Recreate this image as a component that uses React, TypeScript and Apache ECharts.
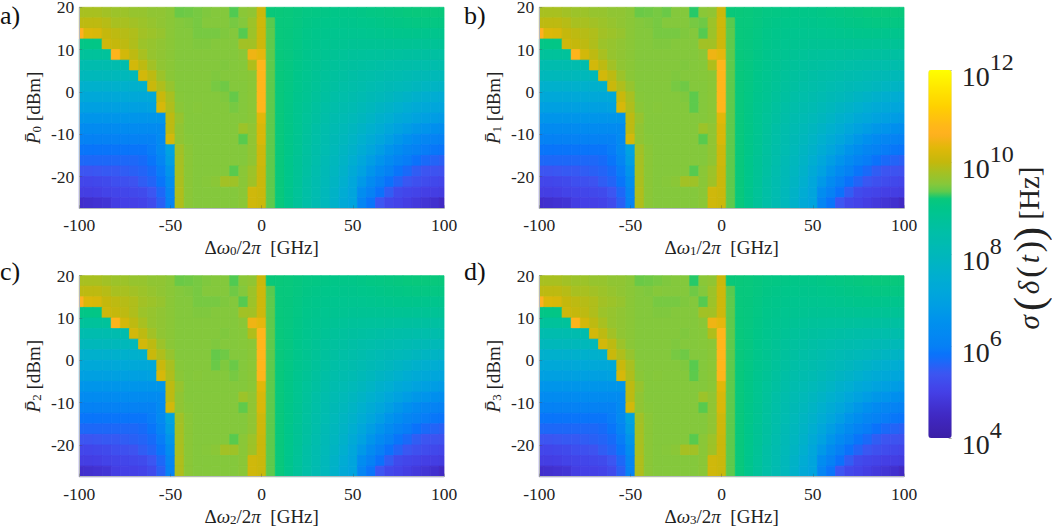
import React, { useEffect, useRef } from 'react';
import * as echarts from 'echarts';

// detuning of each column [GHz], the outer two columns are cut in half by the axis limits
const DETUNING = [
  -100, -95, -90, -85, -80, -75, -70, -65, -60, -55, -50, -45, -40, -35, -30, -25, -20, -15, -10, -5, 0,
  5, 10, 15, 20, 25, 30, 35, 40, 45, 50, 55, 60, 65, 70, 75, 80, 85, 90, 95, 100,
];
// centre of each row [dBm], top to bottom
const POWER = [
  18.75, 16.25, 13.75, 11.25, 8.75, 6.25, 3.75, 1.25, -1.25, -3.75, -6.25, -8.75, -11.25, -13.75, -16.25, -18.75,
  -21.25, -23.75, -26.25,
];
const X_TICKS = [-100, -50, 0, 50, 100];
const Y_TICKS = [-20, -10, 0, 10, 20];
const DECADES = [4, 6, 8, 10, 12];

// log10 of sigma(delta(t)) [Hz], read off panel a)
const LOG_SIGMA = [
  [9.8, 9.8, 9.8, 9.75, 9.7, 9.7, 9.65, 9.65, 9.6, 9.6, 9.55, 9.4, 9.42, 9.45, 9.48, 9.5, 9.5, 9.3, 9.55, 9.6, 10.05, 9.22, 9.22, 9.2, 9.15, 9.1, 9.08, 9.05, 9.03, 9.02, 9.02, 9.05, 9.08, 9.1, 9.12, 9.15, 9.18, 9.2, 9.2, 9.2, 9.2],
  [9.95, 9.95, 9.95, 9.9, 9.8, 9.8, 9.75, 9.7, 9.65, 9.6, 9.55, 9.5, 9.48, 9.45, 9.5, 9.5, 9.5, 9.45, 9.5, 9.7, 10.1, 9.33, 9.2, 9.18, 9.12, 9.06, 9.02, 9, 8.98, 8.96, 8.96, 8.98, 9, 9.02, 9.05, 9.06, 9.08, 9.1, 9.1, 9.1, 9.1],
  [10.6, 10.25, 10.2, 10, 9.95, 9.9, 9.85, 9.75, 9.7, 9.65, 9.55, 9.5, 9.5, 9.45, 9.45, 9.45, 9.48, 9.5, 9.32, 9.7, 10.1, 9.35, 9.2, 9.16, 9.1, 9.03, 8.98, 8.95, 8.92, 8.9, 8.9, 8.9, 8.92, 8.93, 8.95, 8.96, 8.97, 8.97, 8.95, 8.95, 8.95],
  [9.05, 9.05, 9.05, 10.1, 10, 9.95, 9.85, 9.7, 9.65, 9.6, 9.55, 9.5, 9.5, 9.48, 9.48, 9.5, 9.5, 9.5, 9.75, 9.75, 10.1, 9.35, 9.2, 9.15, 9.08, 9, 8.95, 8.9, 8.87, 8.85, 8.82, 8.82, 8.82, 8.82, 8.82, 8.82, 8.82, 8.8, 8.8, 8.78, 8.78],
  [8.7, 8.7, 8.7, 8.7, 10.7, 10.15, 9.95, 9.8, 9.65, 9.6, 9.55, 9.5, 9.5, 9.5, 9.5, 9.5, 9.5, 9.5, 9.55, 10.45, 10.35, 9.35, 9.2, 9.14, 9.05, 8.97, 8.9, 8.85, 8.8, 8.75, 8.72, 8.7, 8.68, 8.68, 8.66, 8.65, 8.62, 8.6, 8.6, 8.58, 8.56],
  [8.3, 8.3, 8.3, 8.3, 8.3, 8.3, 10.15, 9.95, 9.75, 9.6, 9.55, 9.5, 9.5, 9.5, 9.5, 9.5, 9.48, 9.5, 9.52, 9.85, 10.75, 9.35, 9.2, 9.13, 9.03, 8.93, 8.85, 8.78, 8.72, 8.67, 8.62, 8.58, 8.55, 8.52, 8.48, 8.46, 8.42, 8.4, 8.38, 8.36, 8.34],
  [8, 8, 8, 8, 8, 8, 8, 10.15, 9.95, 9.7, 9.55, 9.5, 9.5, 9.5, 9.5, 9.48, 9.5, 9.5, 9.52, 9.55, 10.75, 9.35, 9.2, 9.12, 9, 8.9, 8.8, 8.72, 8.65, 8.58, 8.52, 8.46, 8.4, 8.35, 8.3, 8.25, 8.2, 8.16, 8.12, 8.08, 8.05],
  [7.6, 7.6, 7.6, 7.6, 7.6, 7.6, 7.6, 7.6, 10.05, 9.85, 9.65, 9.5, 9.5, 9.5, 9.5, 9.45, 9.42, 9.5, 9.5, 9.55, 10.75, 9.35, 9.2, 9.1, 8.98, 8.87, 8.77, 8.67, 8.58, 8.5, 8.42, 8.34, 8.26, 8.18, 8.12, 8.05, 8, 7.92, 7.85, 7.8, 7.75],
  [7.25, 7.25, 7.25, 7.25, 7.25, 7.25, 7.25, 7.25, 7.25, 10.05, 9.8, 9.52, 9.5, 9.5, 9.5, 9.5, 9.48, 9.38, 9.5, 9.55, 10.75, 9.35, 9.2, 9.08, 8.95, 8.83, 8.72, 8.6, 8.5, 8.4, 8.32, 8.22, 8.12, 8.02, 7.92, 7.82, 7.72, 7.62, 7.52, 7.45, 7.38],
  [6.95, 6.95, 6.95, 6.95, 6.95, 6.95, 6.95, 6.95, 7, 10.2, 9.85, 9.55, 9.5, 9.52, 9.5, 9.5, 9.5, 9.45, 9.5, 9.55, 10.75, 9.35, 9.2, 9.07, 8.92, 8.78, 8.65, 8.52, 8.4, 8.3, 8.2, 8.08, 7.95, 7.82, 7.7, 7.58, 7.45, 7.35, 7.25, 7.15, 7.08],
  [6.65, 6.65, 6.65, 6.65, 6.65, 6.65, 6.65, 6.65, 6.65, 6.65, 9.95, 9.65, 9.5, 9.5, 9.5, 9.5, 9.5, 9.5, 9.5, 9.55, 10.3, 9.35, 9.2, 9.05, 8.9, 8.74, 8.6, 8.45, 8.3, 8.18, 8.05, 7.92, 7.78, 7.62, 7.48, 7.32, 7.18, 7.05, 6.95, 6.85, 6.78],
  [6.35, 6.35, 6.35, 6.35, 6.35, 6.35, 6.35, 6.35, 6.35, 6.35, 9.95, 9.6, 9.5, 9.5, 9.5, 9.5, 9.5, 9.5, 9.7, 9.6, 10.2, 9.35, 9.2, 9.05, 8.88, 8.7, 8.52, 8.36, 8.2, 8.05, 7.9, 7.75, 7.58, 7.4, 7.2, 7.02, 6.85, 6.7, 6.6, 6.48, 6.4],
  [6.05, 6.05, 6.05, 6.05, 6.05, 6.05, 6.05, 6.05, 6.05, 6.3, 10.15, 9.6, 9.52, 9.5, 9.5, 9.5, 9.5, 9.5, 9.33, 9.6, 10.2, 9.35, 9.2, 9.03, 8.85, 8.67, 8.48, 8.3, 8.12, 7.95, 7.78, 7.58, 7.38, 7.15, 6.92, 6.7, 6.5, 6.32, 6.2, 6.1, 6.05],
  [5.85, 5.85, 5.85, 5.85, 5.85, 5.85, 5.85, 5.85, 5.95, 6.3, 7, 9.75, 9.55, 9.5, 9.5, 9.5, 9.5, 9.5, 9.5, 9.6, 10.1, 9.35, 9.2, 9.02, 8.83, 8.63, 8.43, 8.23, 8.03, 7.85, 7.65, 7.42, 7.15, 6.9, 6.62, 6.4, 6.2, 6.05, 5.95, 5.88, 5.85],
  [5.65, 5.65, 5.65, 5.65, 5.65, 5.65, 5.65, 5.7, 5.85, 6.15, 6.85, 9.78, 9.55, 9.5, 9.5, 9.5, 9.5, 9.5, 9.5, 9.6, 10.1, 9.35, 9.2, 9, 8.8, 8.6, 8.38, 8.16, 7.95, 7.74, 7.5, 7.2, 6.9, 6.6, 6.35, 6.1, 5.95, 5.8, 5.68, 5.6, 5.55],
  [5.38, 5.38, 5.42, 5.45, 5.45, 5.5, 5.55, 5.6, 5.7, 5.95, 6.6, 9.8, 9.55, 9.5, 9.5, 9.5, 9.5, 9.33, 9.55, 9.7, 10.05, 9.35, 9.2, 9, 8.78, 8.56, 8.33, 8.1, 7.88, 7.65, 7.35, 7, 6.65, 6.3, 6.05, 5.85, 5.68, 5.5, 5.38, 5.35, 5.32],
  [5.12, 5.12, 5.15, 5.18, 5.28, 5.3, 5.35, 5.5, 5.6, 5.85, 6.4, 9.82, 9.55, 9.5, 9.52, 9.55, 9.75, 9.72, 9.55, 9.72, 10.05, 9.35, 9.2, 8.98, 8.76, 8.52, 8.28, 8.05, 7.82, 7.55, 7.2, 6.75, 6.35, 6, 5.8, 5.6, 5.42, 5.3, 5.22, 5.15, 5.1],
  [4.95, 4.95, 4.98, 5.05, 5.1, 5.12, 5.15, 5.2, 5.4, 5.65, 6.2, 9.85, 9.55, 9.5, 9.5, 9.5, 9.5, 9.5, 9.55, 10.12, 10.05, 9.35, 9.2, 8.97, 8.74, 8.5, 8.25, 8, 7.72, 7.4, 7.12, 6.4, 6.05, 5.8, 5.5, 5.2, 5.12, 5.05, 4.98, 4.95, 4.9],
  [4.6, 4.65, 4.7, 4.75, 4.95, 5, 5, 5.05, 5.2, 5.55, 6.1, 9.85, 9.55, 9.5, 9.5, 9.5, 9.5, 9.5, 9.55, 10.12, 10.05, 9.35, 9.2, 8.96, 8.72, 8.48, 8.22, 7.98, 7.65, 7.3, 7.1, 6.15, 5.85, 5.4, 5.15, 5.05, 4.95, 4.85, 4.75, 4.65, 4.5],
];

// cells where a panel differs from panel a): [row, column, value]
const CHANGES_A: number[][] = [];
const CHANGES_B = [[8, 17, 9.35], [9, 17, 9.35], [15, 17, 9.32], [0, 17, 9.27], [1, 18, 9.42], [0, 14, 9.4]];
const CHANGES_C = [[1, 17, 9.42], [8, 15, 9.4], [7, 15, 9.38], [12, 18, 9.36], [8, 17, 9.4]];
const CHANGES_D = [[0, 17, 9.27], [1, 17, 9.42], [8, 17, 9.33], [9, 17, 9.35], [16, 16, 9.78], [16, 17, 9.75], [15, 17, 9.33], [1, 13, 9.52]];

const PANELS = [
  { letter: 'a)', sub: '0', changes: CHANGES_A, left: 79.3, top: 7.3, letterX: 0, letterY: 15 },
  { letter: 'b)', sub: '1', changes: CHANGES_B, left: 539.3, top: 7.3, letterX: 464, letterY: 15 },
  { letter: 'c)', sub: '2', changes: CHANGES_C, left: 79.3, top: 275.7, letterX: 0, letterY: 271 },
  { letter: 'd)', sub: '3', changes: CHANGES_D, left: 539.3, top: 275.7, letterX: 464, letterY: 271 },
];

// colour bar: [log10 value, colour], with a jump from green to yellow-green near 9.25
const COLOR_STOPS: [number, string][] = [
  [4, '#3b1fa6'], [4.5, '#4029c4'], [5, '#4440e6'], [5.4, '#3c56f2'], [5.8, '#0a72fb'], [6, '#0680f5'],
  [6.5, '#0090ee'], [7, '#00a2e0'], [7.5, '#00aed0'], [8, '#00b8ba'], [8.5, '#00bfa6'], [9, '#00c68a'],
  [9.25, '#0ac878'], [9.3, '#50ca52'], [9.5, '#84c83c'], [9.8, '#a8c020'], [10, '#c4b80c'], [10.3, '#e0b808'],
  [10.6, '#ffb020'], [10.8, '#ffb818'], [11.2, '#ffd000'], [11.6, '#ffe600'], [12, '#ffff00'],
];

const FONT = '"Liberation Serif"';
const PLOT_W = 364.7;
const PLOT_H = 201;

const palette: string[] = [];
for (let k = 0; k <= 160; k++) {
  const v = 4 + k * 0.05;
  let j = 0;
  while (j < COLOR_STOPS.length - 2 && v > COLOR_STOPS[j + 1][0]) j++;
  const [v0, c0] = COLOR_STOPS[j];
  const [v1, c1] = COLOR_STOPS[j + 1];
  palette.push(echarts.color.lerp(Math.min(1, (v - v0) / (v1 - v0)), [c0, c1]) as string);
}

const labelRich = {
  t: { fontFamily: FONT, fontSize: 19, color: '#222', lineHeight: 24, verticalAlign: 'bottom' },
  i: { fontFamily: FONT, fontSize: 19, fontStyle: 'italic', color: '#222', lineHeight: 24, verticalAlign: 'bottom' },
  s: { fontFamily: FONT, fontSize: 13, color: '#222', lineHeight: 20, verticalAlign: 'bottom' },
};

const panelData = (changes: number[][]) => {
  const rows = LOG_SIGMA.map((r) => r.slice());
  changes.forEach(([r, c, v]) => { rows[r][c] = v; });
  const out: number[][] = [];
  POWER.forEach((p, r) => DETUNING.forEach((d, c) => out.push([d, p, rows[r][c]])));
  return out;
};

const renderCell = (params: any, api: any) => {
  const x = api.value(0);
  const y = api.value(1);
  const lt = api.coord([x - 2.5, y + 1.25]);
  const rb = api.coord([x + 2.5, y - 1.25]);
  const shape = echarts.graphic.clipRectByRect(
    { x: lt[0], y: lt[1], width: rb[0] - lt[0], height: rb[1] - lt[1] },
    params.coordSys,
  );
  const fill = api.visual('color');
  return shape && { type: 'rect', shape, style: { fill, stroke: fill, lineWidth: 0.8 } };
};

const App: React.FC = () => {
  const chartRef = useRef<HTMLDivElement>(null);

  useEffect(() => {
    if (!chartRef.current) return;
    const chart = echarts.init(chartRef.current, undefined, { renderer: 'svg' });

    const axisBits = {
      axisLine: { show: true, onZero: false, lineStyle: { color: '#b5b8bc', width: 1 } },
      splitLine: { show: false },
      z: 5,
    };

    chart.setOption({
      animation: false,
      backgroundColor: '#fff',
      grid: [
        ...PANELS.map((p) => ({ left: p.left, top: p.top, width: PLOT_W, height: PLOT_H, outerBoundsMode: 'none' })),
        { left: 928.3, top: 70, width: 23.4, height: 368, outerBoundsMode: 'none' },
      ],
      xAxis: [
        ...PANELS.map((p, i) => ({
          type: 'value',
          gridIndex: i,
          min: -100,
          max: 100,
          ...axisBits,
          axisTick: { show: true, inside: true, length: 3, lineStyle: { color: 'rgba(70,70,70,0.3)' }, customValues: X_TICKS },
          axisLabel: { fontFamily: FONT, fontSize: 17.5, color: '#222', margin: 8, customValues: X_TICKS, hideOverlap: false, showMinLabel: true, showMaxLabel: true },
          name: `{t|Δ}{i|ω}{s|${p.sub}}{t|/2}{i|π}{t|  [GHz]}`,
          nameLocation: 'middle',
          nameGap: 25,
          nameMoveOverlap: false,
          nameTextStyle: { rich: labelRich },
        })),
        { type: 'value', gridIndex: 4, min: 0, max: 1, show: false },
      ],
      yAxis: [
        ...PANELS.map((p, i) => ({
          type: 'value',
          gridIndex: i,
          min: -27.5,
          max: 20,
          ...axisBits,
          axisTick: { show: true, inside: true, length: 3, lineStyle: { color: 'rgba(70,70,70,0.3)' }, customValues: Y_TICKS },
          axisLabel: { fontFamily: FONT, fontSize: 17.5, lineHeight: 14, color: '#222', margin: 5, customValues: Y_TICKS, showMinLabel: true, showMaxLabel: true },
          name: `{i|P̄}{s|${p.sub}}{t| [dBm]}`,
          nameLocation: 'middle',
          nameRotate: 90,
          nameGap: 36,
          nameMoveOverlap: false,
          nameTextStyle: { rich: labelRich },
        })),
        {
          type: 'value',
          gridIndex: 4,
          position: 'right',
          min: 4,
          max: 12,
          axisLine: { show: false, onZero: false },
          splitLine: { show: false },
          axisTick: { show: true, inside: true, length: 3, lineStyle: { color: 'rgba(70,70,70,0.45)' }, customValues: DECADES },
          axisLabel: {
            margin: 10,
            customValues: DECADES,
            showMinLabel: true,
            showMaxLabel: true,
            formatter: (v: number) => `{b|10}{p|${v}}`,
            rich: {
              b: { fontFamily: FONT, fontSize: 28, color: '#222', lineHeight: 40, verticalAlign: 'bottom' },
              p: { fontFamily: FONT, fontSize: 24, color: '#222', lineHeight: 40, verticalAlign: 'top' },
            },
          },
          name: '{f|σ}{o|(}{g|δ}{m|(}{g|t}{m|)}{o|)}{r| [Hz]}',
          nameLocation: 'middle',
          nameRotate: 90,
          nameGap: 60,
          nameMoveOverlap: false,
          nameTextStyle: {
            rich: {
              f: { fontFamily: FONT, fontSize: 29, lineHeight: 34, fontStyle: 'italic', color: '#222', padding: [0, 4, 0, 12] },
              g: { fontFamily: FONT, fontSize: 29, lineHeight: 34, fontStyle: 'italic', color: '#222', padding: [0, 3, 0, 3] },
              m: { fontFamily: FONT, fontSize: 34, lineHeight: 34, color: '#222' },
              o: { fontFamily: FONT, fontSize: 42, lineHeight: 34, color: '#222' },
              r: { fontFamily: FONT, fontSize: 29, lineHeight: 34, color: '#222' },
            },
          },
        },
      ],
      visualMap: {
        type: 'continuous',
        min: 4,
        max: 12,
        dimension: 2,
        seriesIndex: [0, 1, 2, 3],
        inRange: { color: palette },
        calculable: false,
        hoverLink: false,
        showLabel: false,
        orient: 'vertical',
        left: 928.3,
        top: 70,
        padding: 0,
        itemWidth: 23.4,
        itemHeight: 368,
        text: undefined,
      },
      graphic: PANELS.map((p) => ({
        type: 'text',
        x: p.letterX,
        y: p.letterY,
        style: { text: p.letter, fontFamily: FONT, fontSize: 26, fill: '#111', textVerticalAlign: 'middle' },
      })),
      series: PANELS.map((p, i) => ({
        type: 'custom',
        name: p.letter,
        xAxisIndex: i,
        yAxisIndex: i,
        data: panelData(p.changes),
        encode: { x: 0, y: 1 },
        renderItem: renderCell,
        silent: true,
      })),
    });

    return () => { chart.dispose(); };
  }, []);

  return <div ref={chartRef} style={{ position: 'fixed', left: 0, top: 0, width: 1052, height: 530 }} />;
};

export default App;
